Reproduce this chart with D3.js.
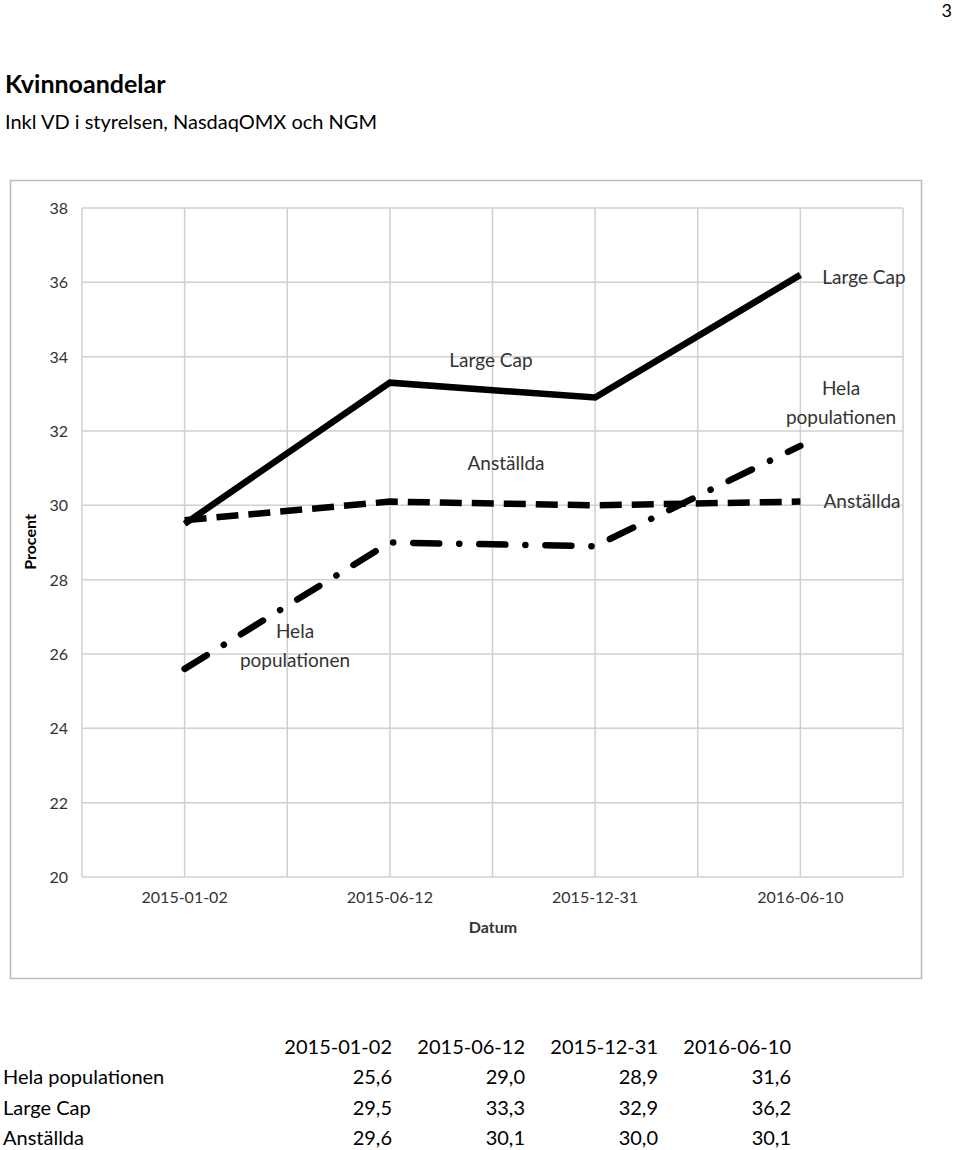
<!DOCTYPE html>
<html><head><meta charset="utf-8">
<script src="https://cdn.jsdelivr.net/npm/d3@7"></script>
<style>body{margin:0;background:#fff}svg{font-family:Lato,"Noto Sans",sans-serif}</style>
</head><body><svg id="c" width="960" height="1150"></svg>
<script>
const categories=["2015-01-02","2015-06-12","2015-12-31","2016-06-10"];
const hela=[25.6,29.0,28.9,31.6];
const largeCap=[29.5,33.3,32.9,36.2];
const anstallda=[29.6,30.1,30.0,30.1];
const yTicks=[20,22,24,26,28,30,32,34,36,38];
const fmt=v=>v.toFixed(1).replace(".",",");

const svg=d3.select("#c");
svg.append("text").attr("x",952).attr("y",17).attr("text-anchor","end").attr("font-size",18).text("3");
svg.append("text").attr("x",5).attr("y",93).attr("font-size",25).attr("font-weight","bold").text("Kvinnoandelar");
svg.append("text").attr("x",5).attr("y",129).attr("font-size",20).text("Inkl VD i styrelsen, NasdaqOMX och NGM");
svg.append("rect").attr("x",10.5).attr("y",180.5).attr("width",911).attr("height",798).attr("fill","none").attr("stroke","#bbb").attr("stroke-width",1.5);

const x=d3.scaleBand().domain(categories).range([82,903]);
const y=d3.scaleLinear().domain([20,38]).range([877,208]);
const g=svg.append("g");
// vertical gridlines at band edges and centers
const vx=[];categories.forEach(c=>{vx.push(x(c));vx.push(x(c)+x.bandwidth()/2);});vx.push(903);
g.selectAll(".vg").data(vx).join("line").attr("x1",d=>d).attr("x2",d=>d).attr("y1",208).attr("y2",877).attr("stroke","#d0d0d0").attr("stroke-width",1.5);
g.selectAll(".hg").data(yTicks).join("line").attr("x1",82).attr("x2",903).attr("y1",d=>y(d)).attr("y2",d=>y(d)).attr("stroke","#d0d0d0").attr("stroke-width",1.5);
g.selectAll(".yl").data(yTicks).join("text").attr("x",68).attr("y",d=>y(d)+6).attr("text-anchor","end").attr("font-size",16).attr("fill","#333").text(d=>d);
g.selectAll(".xl").data(categories).join("text").attr("x",d=>x(d)+x.bandwidth()/2).attr("y",903).attr("text-anchor","middle").attr("font-size",16).attr("fill","#333").text(d=>d);
svg.append("text").attr("x",493).attr("y",933).attr("text-anchor","middle").attr("font-size",16).attr("font-weight","bold").attr("fill","#333").text("Datum");
svg.append("text").attr("transform","translate(36,542) rotate(-90)").attr("text-anchor","middle").attr("font-size",16).attr("font-weight","bold").text("Procent");

const line=d3.line().x((d,i)=>x(categories[i])+x.bandwidth()/2).y(d=>y(d));
svg.append("path").attr("d",line(largeCap)).attr("fill","none").attr("stroke","#000").attr("stroke-width",6.5);
svg.append("path").attr("d",line(anstallda)).attr("fill","none").attr("stroke","#000").attr("stroke-width",6.5).attr("stroke-dasharray","22,10");
svg.append("path").attr("d",line(hela)).attr("fill","none").attr("stroke","#000").attr("stroke-width",6.5).attr("stroke-linecap","round").attr("stroke-dasharray","26,20,0.1,20");

const labs=[["Large Cap",491,367],["Anställda",506,470],["Hela",295,638],["populationen",295,667],["Large Cap",864,284],["Hela",841,395],["populationen",841,424],["Anställda",862,508]];
svg.selectAll(".lab").data(labs).join("text").attr("x",d=>d[1]).attr("y",d=>d[2]).attr("text-anchor","middle").attr("font-size",19).attr("fill","#333").text(d=>d[0]);

// table
const cols=[392,525,658,791];
const t=svg.append("g").attr("font-size",20);
categories.forEach((c,i)=>t.append("text").attr("x",cols[i]).attr("y",1054).attr("text-anchor","end").text(c));
[["Hela populationen",hela],["Large Cap",largeCap],["Anställda",anstallda]].forEach((r,j)=>{
  const yy=1084+j*30.5;
  t.append("text").attr("x",3).attr("y",yy).text(r[0]);
  r[1].forEach((v,i)=>t.append("text").attr("x",cols[i]).attr("y",yy).attr("text-anchor","end").text(fmt(v)));
});
</script></body></html>
